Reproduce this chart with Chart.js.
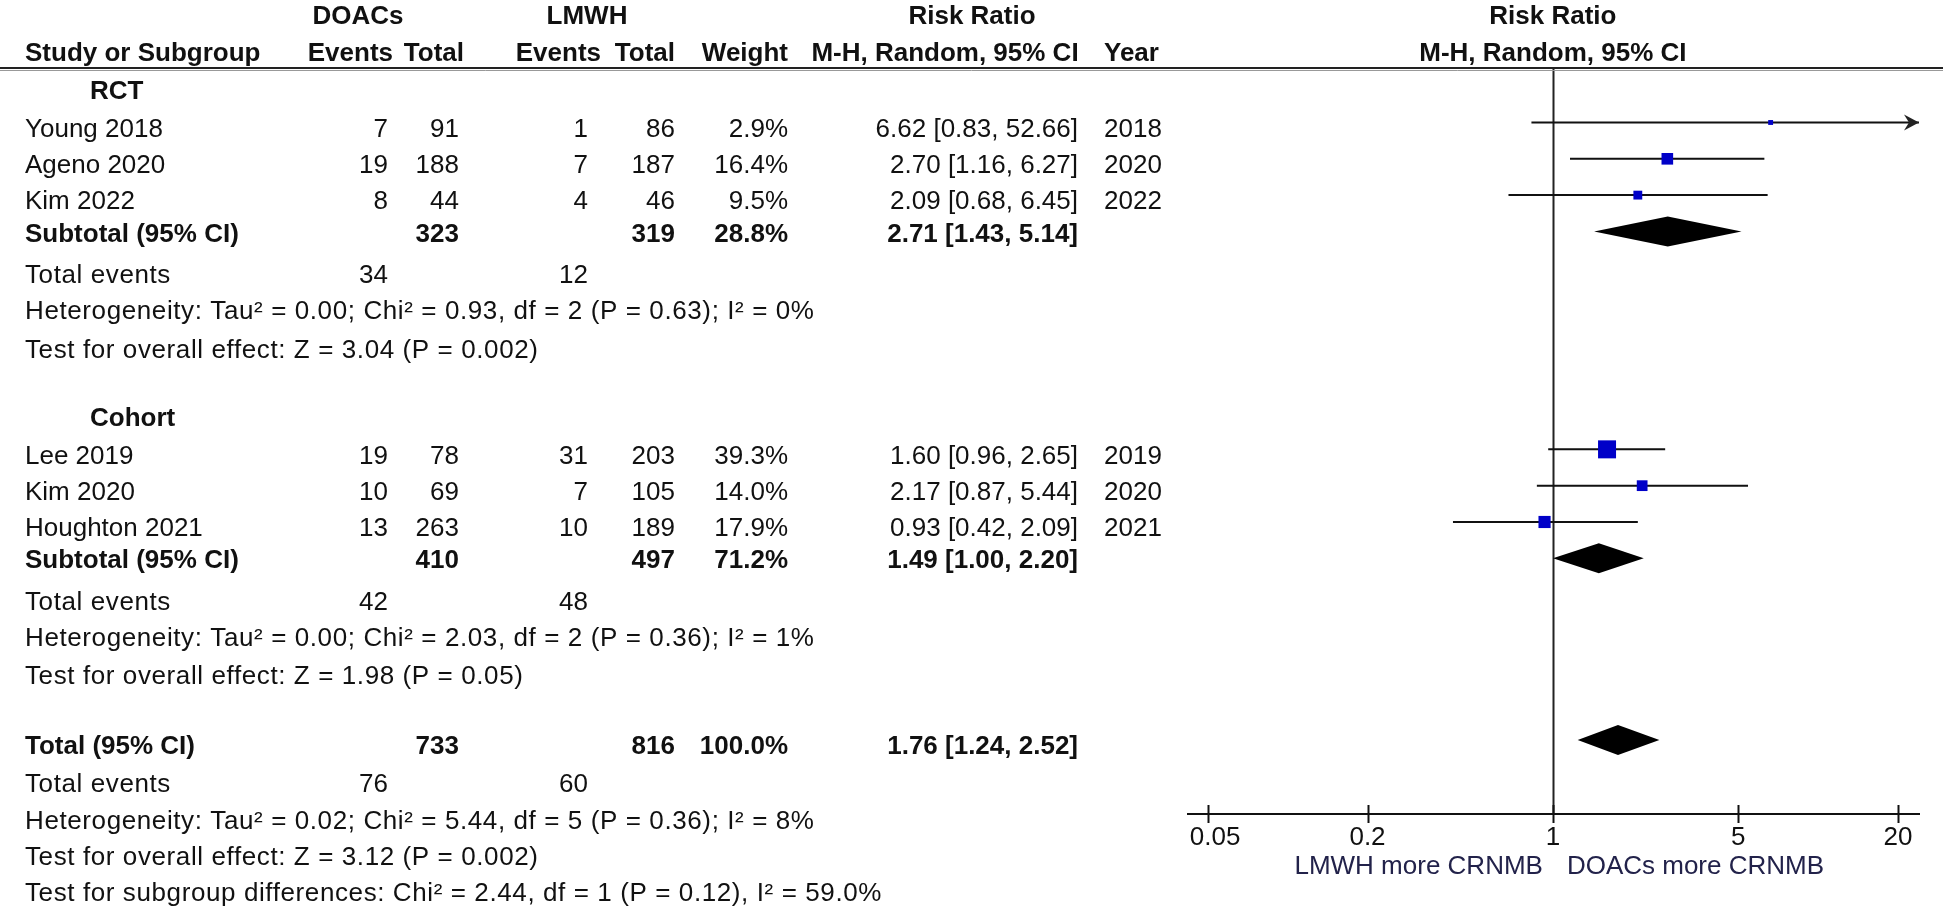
<!DOCTYPE html>
<html><head><meta charset="utf-8">
<script src="https://cdn.jsdelivr.net/npm/chart.js@4.4.1/dist/chart.umd.min.js"></script>
<style>html,body{margin:0;padding:0;background:#fff;}canvas{display:block;}</style>
</head><body>
<canvas id="c" width="1943" height="906"></canvas>
<script>
// ---------------- data ----------------
const studies = ['Young 2018','Ageno 2020','Kim 2022','Lee 2019','Kim 2020','Houghton 2021'];
const studyGroup = [0,0,0,1,1,1];
const doacEvents = [7,19,8,19,10,13];
const doacTotal = [91,188,44,78,69,263];
const lmwhEvents = [1,7,4,31,7,10];
const lmwhTotal = [86,187,46,203,105,189];
const studyWeight = [2.9,16.4,9.5,39.3,14.0,17.9];
const studyRR = [6.62,2.70,2.09,1.60,2.17,0.93];
const studyLow = [0.83,1.16,0.68,0.96,0.87,0.42];
const studyHigh = [52.66,6.27,6.45,2.65,5.44,2.09];
const studyYear = [2018,2020,2022,2019,2020,2021];

const groups = ['RCT','Cohort'];
const groupDoacTotal = [323,410];
const groupLmwhTotal = [319,497];
const groupWeight = [28.8,71.2];
const groupRR = [2.71,1.49];
const groupLow = [1.43,1.00];
const groupHigh = [5.14,2.20];
const groupDoacEvents = [34,42];
const groupLmwhEvents = [12,48];
const groupHeterogeneity = [
  'Heterogeneity: Tau\u00b2 = 0.00; Chi\u00b2 = 0.93, df = 2 (P = 0.63); I\u00b2 = 0%',
  'Heterogeneity: Tau\u00b2 = 0.00; Chi\u00b2 = 2.03, df = 2 (P = 0.36); I\u00b2 = 1%'];
const groupOverall = [
  'Test for overall effect: Z = 3.04 (P = 0.002)',
  'Test for overall effect: Z = 1.98 (P = 0.05)'];

const totalDoac = [733];
const totalLmwh = [816];
const totalWeight = [100.0];
const totalRR = [1.76];
const totalLow = [1.24];
const totalHigh = [2.52];
const totalDoacEvents = [76];
const totalLmwhEvents = [60];
const totalHeterogeneity = 'Heterogeneity: Tau\u00b2 = 0.02; Chi\u00b2 = 5.44, df = 5 (P = 0.36); I\u00b2 = 8%';
const totalOverall = 'Test for overall effect: Z = 3.12 (P = 0.002)';
const subgroupTest = 'Test for subgroup differences: Chi\u00b2 = 2.44, df = 1 (P = 0.12), I\u00b2 = 59.0%';

const tickValues = [0.05, 0.2, 1, 5, 20];
const tickLabels = ['0.05', '0.2', '1', '5', '20'];
const favoursLeft = 'LMWH more CRNMB';
const favoursRight = 'DOACs more CRNMB';

// ---------------- layout / style ----------------
const FONT = '"Liberation Sans", Arial, sans-serif';
const FS = 26;
const TXT = '#111';
const L = {
  nameX: 25, groupX: 90,
  doacEvX: 388, doacTotX: 459, lmwhEvX: 588, lmwhTotX: 675, weightX: 788, ciX: 1078, yearX: 1104,
  hDoacEvX: 393, hDoacTotX: 464, hLmwhEvX: 601, hLmwhTotX: 675, hWeightX: 788, hCiX: 945, hRRX: 972,
  hDoacX: 358, hLmwhX: 587,
  head1Y: 17, head2Y: 54,
  dy: {group: 6, study: 7, subtotal: 3, events: 8, het: 8, overall: 10,
       total: 7, tevents: 9, thet: 9, toverall: 9, tsub: 9},
  statSpacing: '0.6px',
  maxSide: 18, maxWeight: 39.3, diamondHalf: 15
};
const axisMin = 0.0421, axisMax = 24.0;
const yMax = 20.54;

// build row structure
const rows = [];
let r = 0.5;
groups.forEach((g, gi) => {
  rows.push({kind: 'group', gi, y: r}); r += 1;
  studies.forEach((s, si) => { if (studyGroup[si] === gi) { rows.push({kind: 'study', si, y: r}); r += 1; } });
  rows.push({kind: 'subtotal', gi, y: r}); r += 1;
  rows.push({kind: 'events', gi, y: r}); r += 1;
  rows.push({kind: 'het', gi, y: r}); r += 1;
  rows.push({kind: 'overall', gi, y: r}); r += 1;
  r += 1;
});
rows.push({kind: 'total', y: r}); r += 1;
rows.push({kind: 'tevents', y: r}); r += 1;
rows.push({kind: 'thet', y: r}); r += 1;
rows.push({kind: 'toverall', y: r}); r += 1;
rows.push({kind: 'tsub', y: r}); r += 1;

const studyRow = {};
const groupRow = {};
let totalRow = 0;
rows.forEach(o => {
  if (o.kind === 'study') studyRow[o.si] = o.y;
  if (o.kind === 'subtotal') groupRow[o.gi] = o.y;
  if (o.kind === 'total') totalRow = o.y;
});

// datasets
const ciData = [];
studies.forEach((s, i) => {
  ciData.push({x: studyLow[i], y: studyRow[i]});
  ciData.push({x: studyHigh[i], y: studyRow[i]});
  ciData.push({x: studyHigh[i], y: null});
});
const pointData = studies.map((s, i) => ({x: studyRR[i], y: studyRow[i], w: studyWeight[i]}));

const fmtCI = (e, lo, hi) => e.toFixed(2) + ' [' + lo.toFixed(2) + ', ' + hi.toFixed(2) + ']';
const fmtW = w => w.toFixed(1) + '%';

function txt(ctx, s, x, y, align, bold, color, spacing) {
  ctx.font = (bold ? 'bold ' : '') + FS + 'px ' + FONT;
  ctx.textAlign = align;
  ctx.textBaseline = 'middle';
  ctx.fillStyle = color || TXT;
  ctx.letterSpacing = spacing || '0px';
  ctx.fillText(String(s), x, y);
  ctx.letterSpacing = '0px';
}

const forestPlugin = {
  id: 'forest',
  beforeDatasetsDraw(chart) {
    const {ctx, chartArea, scales: {x}} = chart;
    const x1 = Math.round(x.getPixelForValue(1)) + 0.5;
    ctx.save();
    ctx.strokeStyle = '#222';
    ctx.lineWidth = 2;
    ctx.beginPath();
    ctx.moveTo(x1, chartArea.top);
    ctx.lineTo(x1, chartArea.bottom);
    ctx.stroke();
    ctx.restore();
  },
  afterDatasetsDraw(chart) {
    const {ctx, chartArea, scales: {x, y}} = chart;
    ctx.save();
    // arrows for CI running off the axis
    studies.forEach((s, i) => {
      const yy = y.getPixelForValue(studyRow[i]);
      if (studyHigh[i] > axisMax) {
        const xr = chartArea.right;
        ctx.fillStyle = '#222';
        ctx.beginPath();
        ctx.moveTo(xr, yy);
        ctx.lineTo(xr - 15, yy - 8);
        ctx.lineTo(xr - 10, yy);
        ctx.lineTo(xr - 15, yy + 8);
        ctx.closePath();
        ctx.fill();
      }
    });
    // diamonds
    const dia = (e, lo, hi, row) => {
      const yy = y.getPixelForValue(row);
      ctx.fillStyle = '#000';
      ctx.beginPath();
      ctx.moveTo(x.getPixelForValue(lo), yy);
      ctx.lineTo(x.getPixelForValue(e), yy - L.diamondHalf);
      ctx.lineTo(x.getPixelForValue(hi), yy);
      ctx.lineTo(x.getPixelForValue(e), yy + L.diamondHalf);
      ctx.closePath();
      ctx.fill();
    };
    groups.forEach((g, gi) => dia(groupRR[gi], groupLow[gi], groupHigh[gi], groupRow[gi]));
    dia(totalRR[0], totalLow[0], totalHigh[0], totalRow);
    ctx.restore();
  },
  afterDraw(chart) {
    const {ctx, chartArea, scales: {x, y}} = chart;
    ctx.save();
    const W = chart.width;
    // header rule (double)
    ctx.strokeStyle = '#222';
    ctx.lineWidth = 2;
    ctx.beginPath(); ctx.moveTo(0, chartArea.top); ctx.lineTo(W, chartArea.top); ctx.stroke();
    ctx.strokeStyle = '#999';
    ctx.lineWidth = 1;
    ctx.beginPath(); ctx.moveTo(0, chartArea.top + 2.5); ctx.lineTo(W, chartArea.top + 2.5); ctx.stroke();

    // tick marks crossing the axis
    const ay = chartArea.bottom;
    ctx.strokeStyle = '#111';
    ctx.lineWidth = 2;
    x.ticks.forEach(t => {
      const px = Math.round(x.getPixelForValue(t.value)) + 0.5;
      ctx.beginPath(); ctx.moveTo(px, ay - 9); ctx.lineTo(px, ay + 9); ctx.stroke();
    });

    // column headers
    const x1 = x.getPixelForValue(1);
    txt(ctx, 'DOACs', L.hDoacX, L.head1Y, 'center', true);
    txt(ctx, 'LMWH', L.hLmwhX, L.head1Y, 'center', true);
    txt(ctx, 'Risk Ratio', L.hRRX, L.head1Y, 'center', true);
    txt(ctx, 'Risk Ratio', x1, L.head1Y, 'center', true);
    txt(ctx, 'Study or Subgroup', L.nameX, L.head2Y, 'left', true);
    txt(ctx, 'Events', L.hDoacEvX, L.head2Y, 'right', true);
    txt(ctx, 'Total', L.hDoacTotX, L.head2Y, 'right', true);
    txt(ctx, 'Events', L.hLmwhEvX, L.head2Y, 'right', true);
    txt(ctx, 'Total', L.hLmwhTotX, L.head2Y, 'right', true);
    txt(ctx, 'Weight', L.hWeightX, L.head2Y, 'right', true);
    txt(ctx, 'M-H, Random, 95% CI', L.hCiX, L.head2Y, 'center', true);
    txt(ctx, 'Year', L.yearX, L.head2Y, 'left', true);
    txt(ctx, 'M-H, Random, 95% CI', x1, L.head2Y, 'center', true);

    // table rows
    const sp = L.statSpacing;
    rows.forEach(o => {
      const yy = y.getPixelForValue(o.y) + L.dy[o.kind];
      if (o.kind === 'group') {
        txt(ctx, groups[o.gi], L.groupX, yy, 'left', true);
      } else if (o.kind === 'study') {
        const i = o.si;
        txt(ctx, studies[i], L.nameX, yy, 'left');
        txt(ctx, doacEvents[i], L.doacEvX, yy, 'right');
        txt(ctx, doacTotal[i], L.doacTotX, yy, 'right');
        txt(ctx, lmwhEvents[i], L.lmwhEvX, yy, 'right');
        txt(ctx, lmwhTotal[i], L.lmwhTotX, yy, 'right');
        txt(ctx, fmtW(studyWeight[i]), L.weightX, yy, 'right');
        txt(ctx, fmtCI(studyRR[i], studyLow[i], studyHigh[i]), L.ciX, yy, 'right');
        txt(ctx, studyYear[i], L.yearX, yy, 'left');
      } else if (o.kind === 'subtotal') {
        const g = o.gi;
        txt(ctx, 'Subtotal (95% CI)', L.nameX, yy, 'left', true);
        txt(ctx, groupDoacTotal[g], L.doacTotX, yy, 'right', true);
        txt(ctx, groupLmwhTotal[g], L.lmwhTotX, yy, 'right', true);
        txt(ctx, fmtW(groupWeight[g]), L.weightX, yy, 'right', true);
        txt(ctx, fmtCI(groupRR[g], groupLow[g], groupHigh[g]), L.ciX, yy, 'right', true);
      } else if (o.kind === 'events') {
        txt(ctx, 'Total events', L.nameX, yy, 'left', false, null, sp);
        txt(ctx, groupDoacEvents[o.gi], L.doacEvX, yy, 'right');
        txt(ctx, groupLmwhEvents[o.gi], L.lmwhEvX, yy, 'right');
      } else if (o.kind === 'het') {
        txt(ctx, groupHeterogeneity[o.gi], L.nameX, yy, 'left', false, null, sp);
      } else if (o.kind === 'overall') {
        txt(ctx, groupOverall[o.gi], L.nameX, yy, 'left', false, null, sp);
      } else if (o.kind === 'total') {
        txt(ctx, 'Total (95% CI)', L.nameX, yy, 'left', true);
        txt(ctx, totalDoac[0], L.doacTotX, yy, 'right', true);
        txt(ctx, totalLmwh[0], L.lmwhTotX, yy, 'right', true);
        txt(ctx, fmtW(totalWeight[0]), L.weightX, yy, 'right', true);
        txt(ctx, fmtCI(totalRR[0], totalLow[0], totalHigh[0]), L.ciX, yy, 'right', true);
      } else if (o.kind === 'tevents') {
        txt(ctx, 'Total events', L.nameX, yy, 'left', false, null, sp);
        txt(ctx, totalDoacEvents[0], L.doacEvX, yy, 'right');
        txt(ctx, totalLmwhEvents[0], L.lmwhEvX, yy, 'right');
      } else if (o.kind === 'thet') {
        txt(ctx, totalHeterogeneity, L.nameX, yy, 'left', false, null, sp);
      } else if (o.kind === 'toverall') {
        txt(ctx, totalOverall, L.nameX, yy, 'left', false, null, sp);
      } else if (o.kind === 'tsub') {
        txt(ctx, subgroupTest, L.nameX, yy, 'left', false, null, sp);
      }
    });

    // favours labels
    txt(ctx, favoursLeft, x1 - 10, ay + 53, 'right', false, '#22224a');
    txt(ctx, favoursRight, x1 + 14, ay + 53, 'left', false, '#22224a');
    ctx.restore();
  }
};

new Chart(document.getElementById('c').getContext('2d'), {
  type: 'scatter',
  data: {
    datasets: [
      {
        type: 'line', data: ciData, borderColor: '#111', borderWidth: 2,
        pointRadius: 0, spanGaps: false, tension: 0, order: 2
      },
      {
        type: 'scatter', data: pointData, pointStyle: 'rect',
        pointRadius: c => {
          const d = c.raw; if (!d) return 0;
          const side = L.maxSide * Math.sqrt(d.w / L.maxWeight);
          return side * Math.SQRT1_2;
        },
        backgroundColor: '#0000c8', borderWidth: 0, order: 1
      }
    ]
  },
  options: {
    responsive: false, animation: false, events: [], devicePixelRatio: 1,
    layout: {padding: {left: 1188, right: 24, top: 68, bottom: 0}},
    plugins: {legend: {display: false}, tooltip: {enabled: false}},
    scales: {
      x: {
        type: 'logarithmic', min: axisMin, max: axisMax,
        afterBuildTicks: s => { s.ticks = tickValues.map(v => ({value: v})); },
        afterFit: s => { s.height = 92; },
        grid: {display: false, drawTicks: false},
        border: {display: true, color: '#111', width: 2},
        ticks: {
          padding: 8, color: TXT, autoSkip: false, maxRotation: 0,
          font: {family: FONT, size: FS},
          callback: (v, i) => (i === 0 ? '  ' : '') + tickLabels[i]
        }
      },
      y: {type: 'linear', display: false, min: 0, max: yMax, reverse: true}
    }
  },
  plugins: [forestPlugin]
});
</script>
</body></html>
